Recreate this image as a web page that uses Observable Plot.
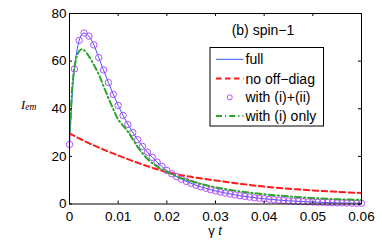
<!DOCTYPE html>
<html>
<head>
<meta charset="utf-8">
<script src="https://cdn.jsdelivr.net/npm/d3@7"></script>
<script src="https://cdn.jsdelivr.net/npm/@observablehq/plot@0.6"></script>
<style>
  html, body { margin: 0; padding: 0; background: #fff; }
  #chart { width: 382px; height: 249px; }
</style>
</head>
<body>
<div id="chart"></div>
<script>
// ---- data ----
const xTicks = [0, 0.01, 0.02, 0.03, 0.04, 0.05, 0.06];
const xTickLabels = ["0", "0.01", "0.02", "0.03", "0.04", "0.05", "0.06"];
const yTicks = [0, 20, 40, 60, 80];
const yTickLabels = ["0", "20", "40", "60", "80"];

// full (solid blue line)
const fullT = [0, 0.0003, 0.0006, 0.001, 0.0015, 0.002, 0.0025, 0.003, 0.004, 0.005, 0.006, 0.008, 0.010, 0.012, 0.014, 0.016, 0.018, 0.020, 0.023, 0.026, 0.030, 0.035, 0.040, 0.045, 0.050, 0.055, 0.060];
const fullV = [25, 36, 47, 56.7, 64, 68.7, 71.2, 71.8, 70.5, 66.8, 61.5, 51.0, 41.4, 33.4, 27.0, 21.8, 17.6, 14.1, 10.4, 7.9, 5.5, 3.5, 2.2, 1.35, 0.8, 0.5, 0.3];

// no off-diag (red dashed)
const noOffT = [0, 0.005, 0.010, 0.015, 0.020, 0.025, 0.030, 0.035, 0.040, 0.045, 0.050, 0.055, 0.060];
const noOffV = [29.6, 24.6, 20.4, 16.6, 13.4, 11.4, 9.9, 8.5, 7.3, 6.4, 5.7, 5.1, 4.6];

// with (i)+(ii) (magenta circles)
const markT = [0, 0.001, 0.002, 0.003, 0.004, 0.005, 0.006, 0.007, 0.008, 0.009,
  0.010, 0.011, 0.012, 0.013, 0.014, 0.015, 0.016, 0.017, 0.018, 0.019,
  0.020, 0.021, 0.022, 0.023, 0.024, 0.025, 0.026, 0.027, 0.028, 0.029,
  0.030, 0.031, 0.032, 0.033, 0.034, 0.035, 0.036, 0.037, 0.038, 0.039,
  0.040, 0.041, 0.042, 0.043, 0.044, 0.045, 0.046, 0.047, 0.048, 0.049,
  0.050, 0.051, 0.052, 0.053, 0.054, 0.055, 0.056, 0.057, 0.058, 0.059, 0.060];
const markV = [25, 56.7, 68.7, 71.8, 70.5, 66.8, 61.5, 56.3, 51.0, 46.0,
  41.4, 37.2, 33.4, 30.0, 27.0, 24.2, 21.8, 19.6, 17.6, 15.8,
  14.1, 12.7, 11.5, 10.4, 9.5, 8.7, 7.9, 7.2, 6.6, 6.0,
  5.5, 5.0, 4.6, 4.2, 3.8, 3.5, 3.2, 2.9, 2.6, 2.4,
  2.2, 2.0, 1.8, 1.65, 1.5, 1.35, 1.2, 1.1, 1.0, 0.9,
  0.8, 0.75, 0.7, 0.6, 0.55, 0.5, 0.45, 0.4, 0.35, 0.3, 0.3];

// with (i) only (green dash-dot)
const onlyT = [0, 0.0003, 0.0006, 0.001, 0.0015, 0.002, 0.0026, 0.003, 0.004, 0.005, 0.006, 0.007, 0.008, 0.009, 0.010, 0.012, 0.014, 0.016, 0.018, 0.020, 0.023, 0.026, 0.030, 0.035, 0.040, 0.045, 0.050, 0.055, 0.060];
const onlyV = [30, 40, 50, 57, 62, 64.2, 65, 64.6, 62, 58.5, 54.5, 49.5, 44.5, 39.8, 35.5, 30.4, 24.0, 19.0, 15.7, 13.5, 10.8, 9.0, 7.0, 5.3, 4.1, 3.2, 2.5, 2.0, 1.7];

const seriesNames = ["full", "no off\u2212diag", "with (i)+(ii)", "with (i) only"];
const titleText = "(b) spin\u22121";

// ---- build ----
const rows = (T, V) => T.map((t, i) => ({t, v: V[i]}));
const W = 382, H = 249;
const mL = 69, mR = 21, mT = 13, mB = 45.5;
const fw = W - mL - mR, fh = H - mT - mB;
const tick = 3;

const blue = "#3a55ff", red = "#ff1a1a", mag = "#b44cff", green = "#2ea52a";

const plot = Plot.plot({
  width: W, height: H,
  marginLeft: mL, marginRight: mR, marginTop: mT, marginBottom: mB,
  style: {fontFamily: "'Liberation Sans', Arial, Helvetica, sans-serif", fontSize: "13.5px", color: "#000", background: "#fff"},
  x: {domain: [0, 0.06]},
  y: {domain: [0, 80]},
  marks: [
    Plot.line(rows(fullT, fullV), {x: "t", y: "v", stroke: blue, strokeWidth: 1, curve: "catmull-rom", clip: true}),
    Plot.line(rows(noOffT, noOffV), {x: "t", y: "v", stroke: red, strokeWidth: 2, strokeDasharray: "5.5,3.5", curve: "catmull-rom", clip: true}),
    Plot.dot(rows(markT, markV), {x: "t", y: "v", r: 3.2, stroke: mag, fill: "none", strokeWidth: 1}),
    Plot.line(rows(onlyT, onlyV), {x: "t", y: "v", stroke: green, strokeWidth: 2, strokeDasharray: "6,3,1.2,3", curve: "catmull-rom", clip: true}),
    Plot.frame({stroke: "#000", strokeWidth: 1}),
    // inward ticks (bottom/top/left/right)
    Plot.tickX(xTicks, {x: d => d, stroke: "#000", insetTop: fh - tick}),
    Plot.tickX(xTicks, {x: d => d, stroke: "#000", insetBottom: fh - tick}),
    Plot.tickY(yTicks, {y: d => d, stroke: "#000", insetRight: fw - tick}),
    Plot.tickY(yTicks, {y: d => d, stroke: "#000", insetLeft: fw - tick}),
    Plot.axisX(xTicks, {tickSize: 0, tickPadding: 7, label: null, tickFormat: (d, i) => xTickLabels[i]}),
    Plot.axisY(yTicks, {tickSize: 0, tickPadding: 3, label: null, tickFormat: (d, i) => yTickLabels[i]})
  ]
});

document.getElementById("chart").appendChild(plot);

const svg = d3.select(plot);
const xs = plot.scale("x");

// y label I_em
const yl = svg.append("text")
  .attr("x", 21).attr("y", 109)
  .attr("text-anchor", "start")
  .attr("font-family", "'Liberation Serif', 'Times New Roman', serif")
  .attr("font-style", "italic")
  .attr("font-size", 12.5)
  .attr("fill", "#000");
yl.append("tspan").text("I");
yl.append("tspan").attr("font-size", 9.5).attr("dy", 1).text("em");

// x label γ t
const xl = svg.append("text")
  .attr("x", (xs.apply(0) + xs.apply(0.06)) / 2).attr("y", 235)
  .attr("text-anchor", "middle")
  .attr("font-size", 13)
  .attr("fill", "#000");
xl.append("tspan").text("\u03B3 ");
xl.append("tspan").attr("font-style", "italic").text("t");

// title inside
svg.append("text")
  .attr("x", 263).attr("y", 35)
  .attr("text-anchor", "middle")
  .attr("font-size", 14)
  .attr("fill", "#000")
  .text(titleText);

// legend
const lg = svg.append("g").attr("text-anchor", "start");
const bx = 210, by = 47.5, bw = 113.5, bh = 78.5;
lg.append("rect").attr("x", bx).attr("y", by).attr("width", bw).attr("height", bh)
  .attr("fill", "#fff").attr("stroke", "#000").attr("stroke-width", 1);
const rowsY = [59.3, 78.5, 97.3, 116];
const sx1 = 216, sx2 = 243.5, tx = 245.5;
const styles = [
  {kind: "line", stroke: blue, w: 1, dash: null},
  {kind: "line", stroke: red, w: 2, dash: "5.5,3.5"},
  {kind: "dot", stroke: mag},
  {kind: "line", stroke: green, w: 2, dash: "6,3,1.2,3"}
];
styles.forEach((s, i) => {
  const yy = rowsY[i];
  if (s.kind === "line") {
    const ln = lg.append("line").attr("x1", sx1).attr("x2", sx2).attr("y1", yy).attr("y2", yy)
      .attr("stroke", s.stroke).attr("stroke-width", s.w);
    if (s.dash) ln.attr("stroke-dasharray", s.dash);
  } else {
    lg.append("circle").attr("cx", (sx1 + sx2) / 2).attr("cy", yy).attr("r", 2.5)
      .attr("fill", "none").attr("stroke", s.stroke).attr("stroke-width", 1);
  }
  lg.append("text").attr("x", tx).attr("y", yy + 5).attr("text-anchor", "start")
    .attr("font-size", 14).attr("fill", "#000").text(seriesNames[i]);
});
</script>
</body>
</html>
